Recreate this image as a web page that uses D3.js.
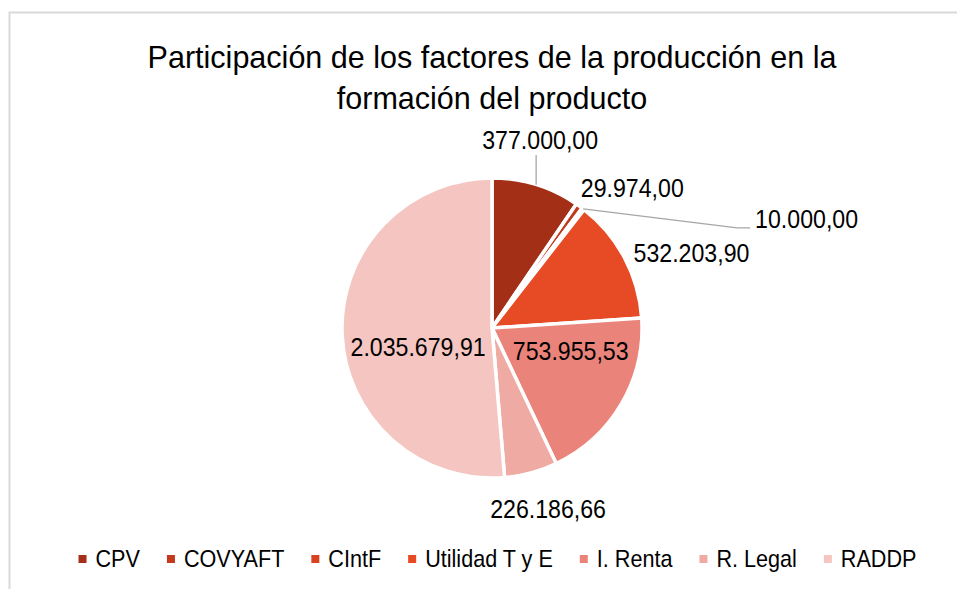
<!DOCTYPE html>
<html>
<head>
<meta charset="utf-8">
<script src="https://cdn.jsdelivr.net/npm/d3@7"></script>
<style>
  body { margin: 0; background: #fff; }
  svg { display: block; font-family: "Liberation Sans", Arial, sans-serif; }
</style>
</head>
<body>
<svg id="chart" width="957" height="589"></svg>
<script>
var categories = ["CPV", "COVYAFT", "CIntF", "Utilidad T y E", "I. Renta", "R. Legal", "RADDP"];
var values = [377000.00, 29974.00, 10000.00, 532203.90, 753955.53, 226186.66, 2035679.91];
var labels = ["377.000,00", "29.974,00", "10.000,00", "532.203,90", "753.955,53", "226.186,66", "2.035.679,91"];
var colors = ["#a32f17", "#c13a1e", "#d8431f", "#e64b25", "#ea8379", "#f0aaa4", "#f4c5c1"];

// where each data label sits: "out" = offset from the arc edge at mid angle, "in" = offset from the centroid
var labelPos = [
  {mode: "up", dx: 4, dy: -29},
  {mode: "out", dx: 53, dy: -9},
  {mode: "elbow", dx: 154, dy: 19},
  {mode: "out", dx: 67, dy: 4},
  {mode: "in", dx: 14, dy: -6},
  {mode: "out", dx: 17, dy: 45},
  {mode: "in", dx: 1, dy: 25}
];

var svg = d3.select("#chart");
var cx = 492, cy = 328, r = 150;
var squeeze = 0.89; // the source font is drawn condensed

function stext(parent, x, y, size, sx, anchor, str) {
  var t = parent.append("g").attr("transform", "translate(" + x + "," + y + ") scale(" + sx + ",1)")
    .append("text").attr("x", 0).attr("y", 0).attr("font-size", size)
    .attr("text-anchor", anchor).attr("fill", "#000").text(str);
  return t;
}

// frame
svg.append("path").attr("d", "M957,12.5H9.5V589").attr("fill", "none").attr("stroke", "#d9d9d9").attr("stroke-width", 2);

stext(svg, 492, 68, 32, 0.954, "middle", "Participación de los factores de la producción en la");
stext(svg, 492, 109, 32, 0.954, "middle", "formación del producto");

var pie = d3.pie().sort(null).value(function(d){ return d; });
var arcs = pie(values);
var arc = d3.arc().innerRadius(0).outerRadius(r);

var g = svg.append("g").attr("transform", "translate(" + cx + "," + cy + ")");
g.selectAll("path.slice").data(arcs).enter().append("path")
  .attr("class", "slice")
  .attr("d", arc)
  .attr("fill", function(d, i){ return colors[i]; })
  .attr("stroke", "#fff").attr("stroke-width", 3.5).attr("stroke-linejoin", "round");

function mid(d){ return (d.startAngle + d.endAngle) / 2; }

arcs.forEach(function(d, i){
  var a = mid(d), p = labelPos[i];
  var sx = Math.sin(a) * r, sy = -Math.cos(a) * r;
  var c = arc.centroid(d);
  var lx, ly, anchor = "middle";
  if (p.mode === "up") {
    lx = sx + p.dx; ly = -r + p.dy;
    g.append("line").attr("x1", sx).attr("y1", sy).attr("x2", sx).attr("y2", ly + 6)
      .attr("stroke", "#a6a6a6").attr("stroke-width", 1.3);
  } else if (p.mode === "elbow") {
    var ex = sx + p.dx, ey = sy + p.dy;
    g.append("polyline").attr("points", [[sx, sy], [ex, ey], [ex + 13, ey]].map(function(q){ return q.join(","); }).join(" "))
      .attr("fill", "none").attr("stroke", "#a6a6a6").attr("stroke-width", 1.3);
    lx = ex + 18; ly = ey; anchor = "start";
  } else if (p.mode === "out") {
    lx = sx + p.dx; ly = sy + p.dy;
  } else {
    lx = c[0] + p.dx; ly = c[1] + p.dy;
  }
  stext(g, lx, ly, 26, squeeze, anchor, labels[i]);
});

// legend
var leg = svg.append("g");
var lsx = 0.9, x = 0;
categories.forEach(function(cat, i){
  var it = leg.append("g").attr("transform", "translate(" + x + ",0)");
  it.append("rect").attr("x", 0).attr("y", -12).attr("width", 8).attr("height", 8).attr("fill", colors[i]);
  var t = stext(it, 17, 0, 24, lsx, "start", cat);
  x += 17 + t.node().getComputedTextLength() * lsx + 27;
});
var totalW = x - 27;
leg.attr("transform", "translate(" + (497.5 - totalW / 2) + ",567)");
</script>
</body>
</html>
